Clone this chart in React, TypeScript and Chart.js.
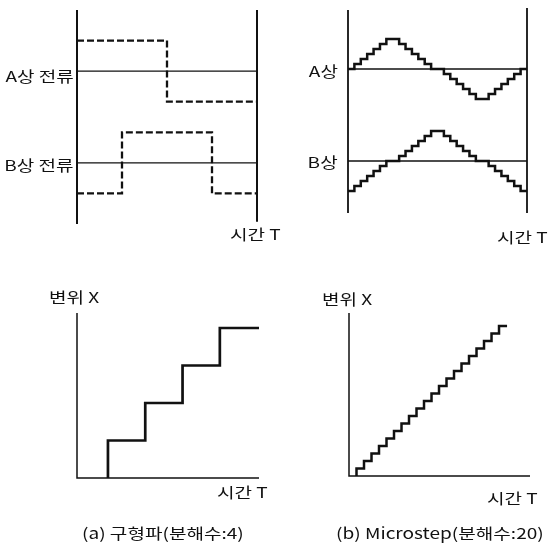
import React, { useEffect, useRef } from "react";
import { Chart, registerables } from "chart.js";

Chart.register(...registerables);

const W = 554;
const H = 547;

// ---- Data ----
// (a) top: square-wave phase currents, one value per quarter period
const quarterTimes = [0, 1, 2, 3];
const squareA = [1, 1, -1, -1];
const squareB = [-1, 1, 1, -1];
const quarterEnd = 4;

// (b) top: microstep phase currents, one level per microstep (28 microsteps shown)
const microA = [0, 1, 2, 3, 4, 5, 6, 6, 5, 4, 3, 2, 1, 0, 0, -1, -2, -3, -4, -5, -6, -6, -5, -4, -3, -2, -1, 0];
const microB = [-6, -5, -4, -3, -2, -1, 0, 0, 1, 2, 3, 4, 5, 6, 6, 5, 4, 3, 2, 1, 0, 0, -1, -2, -3, -4, -5, -6];
const microEnd = 28;

// (a) bottom: displacement for full steps (resolution 4)
const fullStepTimes = [0.83, 1.83, 2.83, 3.83];
const fullStepLevels = [1, 2, 3, 4];
const fullStepEnd = 4.88;

// (b) bottom: displacement for microsteps (resolution 20)
const microStepTimes = [1, 2, 3, 4, 5, 6, 7, 8, 9, 10, 11, 12, 13, 14, 15, 16, 17, 18, 19, 20];
const microStepLevels = [1, 2, 3, 4, 5, 6, 7, 8, 9, 10, 11, 12, 13, 14, 15, 16, 17, 18, 19, 20];
const microStepEnd = 21.07;

// Text
const phaseLabelsA = ["A상 전류", "B상 전류"];
const phaseLabelsB = ["A상", "B상"];
const timeLabel = "시간 T";
const dispLabel = "변위 X";
const captions = ["(a) 구형파(분해수:4)", "(b) Microstep(분해수:20)"];

// ---- Layout (offsets of the two phase traces inside the top panels) ----
const SQ_A_BASE = 5;
const SQ_B_BASE = 2;
const MI_A_BASE = 28.8;
const MI_B_BASE = 10.4;

const INK = "#111";
const FONT = '"Noto Sans CJK KR", "Noto Sans", sans-serif';
const TEXT_STRETCH = 1.27;

type Pt = { x: number; y: number };

function seg(data: Pt[], width: number, extra: any = {}) {
  return {
    data,
    borderColor: INK,
    borderWidth: width,
    pointRadius: 0,
    tension: 0,
    fill: false,
    clip: false,
    ...extra,
  };
}

function steppedLevels(times: number[], levels: number[], end: number, base: number, scale = 1): Pt[] {
  const pts = times.map((t, i) => ({ x: t, y: base + levels[i] * scale }));
  pts.push({ x: end, y: base + levels[levels.length - 1] * scale });
  return pts;
}

function risingSteps(times: number[], levels: number[], end: number): Pt[] {
  const pts: Pt[] = [{ x: times[0], y: 0 }];
  times.forEach((t, i) => pts.push({ x: t, y: levels[i] }));
  pts.push({ x: end, y: levels[levels.length - 1] });
  return pts;
}

type PanelCfg = {
  area: { l: number; t: number; r: number; b: number };
  x: [number, number];
  y: [number, number];
  datasets: any[];
};

function buildPanels(): PanelCfg[] {
  const microIdx = microA.map((_, i) => i);
  return [
    {
      area: { l: 77, t: 10, r: 257, b: 224 },
      x: [0, 4],
      y: [0, 7],
      datasets: [
        seg([{ x: 0, y: 0 }, { x: 0, y: 7 }], 2),
        seg([{ x: 4, y: 0.07 }, { x: 4, y: 7 }], 2),
        seg([{ x: 0, y: SQ_A_BASE }, { x: 4, y: SQ_A_BASE }], 1.3),
        seg([{ x: 0, y: SQ_B_BASE }, { x: 4, y: SQ_B_BASE }], 1.3),
        seg(steppedLevels(quarterTimes, squareA, quarterEnd, SQ_A_BASE), 2.3, { stepped: "before", borderDash: [7, 3] }),
        seg(steppedLevels(quarterTimes, squareB, quarterEnd, SQ_B_BASE), 2.3, { stepped: "before", borderDash: [7, 3] }),
      ],
    },
    {
      area: { l: 348, t: 10, r: 527, b: 213 },
      x: [0, 28],
      y: [0, 40.6],
      datasets: [
        seg([{ x: 0, y: 0 }, { x: 0, y: 40.6 }], 1.8),
        seg([{ x: 28, y: 0 }, { x: 28, y: 41 }], 1.8),
        seg([{ x: 0, y: MI_A_BASE }, { x: 28, y: MI_A_BASE }], 1.3),
        seg([{ x: 0, y: MI_B_BASE }, { x: 28, y: MI_B_BASE }], 1.3),
        seg(steppedLevels(microIdx, microA, microEnd, MI_A_BASE), 2.5, { stepped: "before" }),
        seg(steppedLevels(microIdx, microB, microEnd, MI_B_BASE), 2.5, { stepped: "before" }),
      ],
    },
    {
      area: { l: 77, t: 313, r: 259, b: 478 },
      x: [0, 4.88],
      y: [0, 4.4],
      datasets: [
        seg([{ x: 0, y: 4.4 }, { x: 0, y: 0 }, { x: 4.88, y: 0 }], 1.5),
        seg(risingSteps(fullStepTimes, fullStepLevels, fullStepEnd), 2.7, { stepped: "before" }),
      ],
    },
    {
      area: { l: 349, t: 313, r: 530, b: 476 },
      x: [0, 24.13],
      y: [0, 21.73],
      datasets: [
        seg([{ x: 0, y: 21.73 }, { x: 0, y: 0 }, { x: 24.13, y: 0 }], 1.5),
        seg(risingSteps(microStepTimes, microStepLevels, microStepEnd), 2.5, { stepped: "before" }),
      ],
    },
  ];
}

function PanelCanvas({ cfg }: { cfg: PanelCfg }) {
  const ref = useRef<HTMLCanvasElement | null>(null);
  useEffect(() => {
    if (!ref.current) return;
    const { area } = cfg;
    const chart = new Chart(ref.current, {
      type: "line",
      data: { datasets: cfg.datasets },
      options: {
        animation: false,
        responsive: false,
        events: [],
        layout: { padding: { left: area.l, top: area.t, right: W - area.r, bottom: H - area.b } },
        plugins: { legend: { display: false }, tooltip: { enabled: false }, title: { display: false } },
        scales: {
          x: { type: "linear", display: false, min: cfg.x[0], max: cfg.x[1] },
          y: { type: "linear", display: false, min: cfg.y[0], max: cfg.y[1] },
        },
      },
    } as any);
    return () => chart.destroy();
  }, [cfg]);
  return (
    <canvas
      ref={ref}
      width={W}
      height={H}
      style={{ position: "absolute", left: 0, top: 0, width: W, height: H }}
    />
  );
}

function Label({ text, x, y, align = "left", size = 15 }: { text: string; x: number; y: number; align?: "left" | "right"; size?: number }) {
  const style: React.CSSProperties = {
    position: "absolute",
    top: y,
    transform: `translateY(-50%) scaleX(${TEXT_STRETCH})`,
    transformOrigin: align === "right" ? "right center" : "left center",
    fontFamily: FONT,
    fontSize: size,
    lineHeight: 1,
    color: INK,
    whiteSpace: "nowrap",
  };
  if (align === "right") style.right = W - x;
  else style.left = x;
  return <div style={style}>{text}</div>;
}

const panels = buildPanels();

export default function App() {
  return (
    <div style={{ position: "absolute", left: 0, top: 0, width: W, height: H, background: "#fff", overflow: "hidden" }}>
      {panels.map((p, i) => (
        <PanelCanvas key={i} cfg={p} />
      ))}
      <Label text={phaseLabelsA[0]} x={74} y={75} align="right" />
      <Label text={phaseLabelsA[1]} x={74} y={164} align="right" />
      <Label text={timeLabel} x={230} y={233} />
      <Label text={phaseLabelsB[0]} x={338} y={70} align="right" />
      <Label text={phaseLabelsB[1]} x={338} y={161} align="right" />
      <Label text={timeLabel} x={497} y={236} />
      <Label text={dispLabel} x={49} y={296} />
      <Label text={timeLabel} x={217} y={491} />
      <Label text={dispLabel} x={322} y={298} />
      <Label text={timeLabel} x={487} y={497} />
      <Label text={captions[0]} x={82} y={532} />
      <Label text={captions[1]} x={336} y={532} />
    </div>
  );
}
